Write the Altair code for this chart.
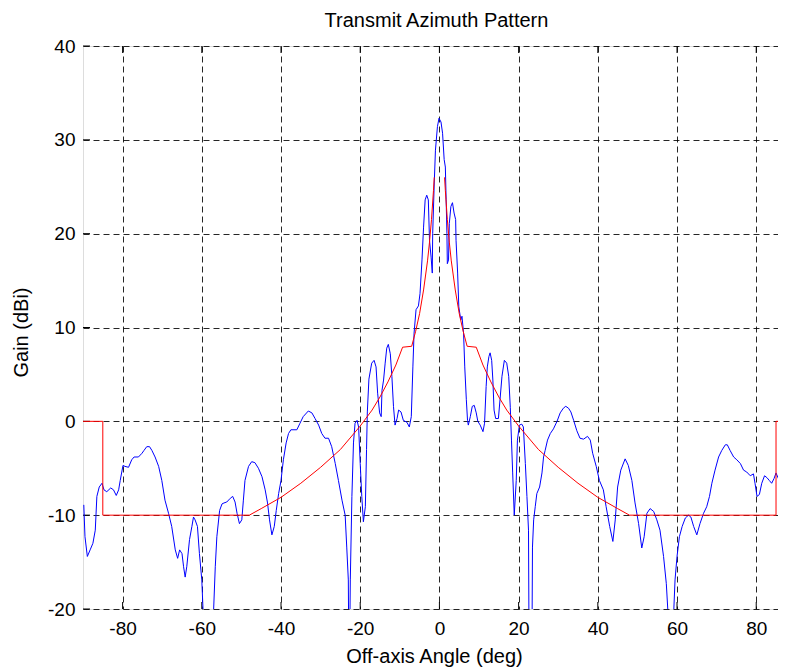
import altair as alt
import pandas as pd

# ---- data ----
blue_deg = [
    -89.8, -89.5, -88.9, -88.2, -87.5, -86.9, -86.5, -85.9, -85.2, -84.7, -84.0, -83.0, -82.3, -81.6, -81.0,
    -80.6, -79.9, -79.4, -78.5, -77.7, -77.1, -76.0, -75.1, -74.6, -73.9, -73.2, -72.6, -71.8, -70.9, -70.1,
    -69.3, -68.4, -67.6, -66.7, -66.1, -65.6, -65.0, -64.6, -64.2, -63.8, -63.1, -62.5, -62.1, -61.7, -61.1,
    -60.6, -60.0, -59.6, -59.2, -57.5, -57.1, -56.6, -56.2, -55.5, -54.9, -54.4, -53.7, -52.8, -52.2, -51.6,
    -51.1, -50.5, -49.9, -49.5, -49.1, -48.2, -47.4, -46.6, -45.7,
    -44.8, -44.0, -43.4, -42.9, -42.3, -41.7, -41.2, -40.6, -40.0, -39.4, -38.7, -38.1, -37.5, -36.0, -35.2,
    -34.4, -33.1, -32.2, -31.4, -30.5, -29.7, -28.9, -28.0, -27.2, -26.3, -25.5, -24.6, -23.8, -23.4, -23.0,
    -22.8, -22.5, -22.1, -21.7, -21.3, -20.8, -20.4, -20.0, -19.6, -19.2, -18.7, -18.4, -18.2, -17.8,
    -17.1, -16.5, -16.0, -15.6, -15.1, -14.7, -14.5, -14.1, -13.7, -13.3, -12.9, -12.4, -12.0, -11.6, -11.2,
    -10.7, -10.3, -9.7, -9.1, -8.2, -7.6, -7.1, -6.7, -6.4, -5.9, -5.3, -4.9, -4.4, -4.0, -3.6, -3.2, -2.8,
    -2.5, -2.1, -1.8, -1.7, -1.3, -1.0, -0.5, -0.1, 0.4, 0.8,
    1.2, 1.5, 1.7, 1.9, 2.0, 2.3, 2.5, 2.9, 3.3, 3.7, 4.1, 4.2, 4.6, 4.9, 5.4, 5.7, 6.1, 6.4, 6.8, 7.1, 7.3,
    7.8, 8.3, 8.8, 9.3, 9.7, 10.3, 11.0, 11.4, 11.8, 12.1, 12.5, 12.8, 13.2, 13.5, 13.8, 14.2, 14.9, 15.3,
    15.8, 16.4, 17.0, 17.5, 17.9, 18.2,
    18.5, 18.9, 19.4, 19.7, 20.2, 20.8, 21.2, 21.7, 22.1, 22.5, 22.7, 23.3, 23.5, 23.8, 24.2, 24.6, 25.3,
    25.9, 26.3, 26.7, 27.3, 28.0, 28.8, 29.7, 30.5, 31.3, 31.9, 32.6, 33.2, 33.9, 34.7, 35.5, 36.4, 37.4,
    38.1, 38.7, 39.6, 40.4, 41.4, 42.1, 43.0, 43.8, 44.4, 45.0, 45.8,
    46.9, 47.7, 48.6, 49.4, 50.3, 51.1, 51.7, 52.4, 53.2, 54.1, 54.9, 55.7, 56.6, 57.3, 57.8, 58.2, 58.8,
    59.1, 59.5, 60.0, 60.6, 61.3, 62.1, 62.9, 63.5, 64.2, 65.0, 65.8, 66.7, 67.5, 68.2, 68.8, 69.6, 70.5,
    71.3, 72.2, 72.7, 73.4, 74.3, 75.1, 76.0, 76.8, 77.6, 78.5, 79.3, 79.7, 80.2, 80.8, 81.4, 82.1, 82.7,
    83.3, 83.9, 84.5, 85.0, 85.6, 86.2, 86.9, 87.4,
]
blue_gain = [
    -8.9, -12.3, -14.4, -13.7, -13.0, -11.6, -8.0, -7.0, -6.6, -7.3, -7.5, -7.1, -7.3, -7.9, -7.3,
    -6.3, -4.7, -4.8, -4.9, -4.1, -3.8, -3.8, -3.4, -3.1, -2.7, -2.7, -3.1, -3.8, -4.8, -6.3,
    -8.4, -9.8, -11.2, -13.7, -14.6, -13.7, -14.1, -15.5, -16.6, -15.5, -12.6, -11.2, -10.2, -10.5, -11.2,
    -14.1, -16.9, -21.0, -40.0, -40.0, -21.0, -15.5, -12.3, -9.5, -8.8, -8.7, -8.6, -8.2, -8.0, -8.6,
    -9.8, -10.9, -10.5, -8.4, -6.3, -4.8, -4.3, -4.4, -5.0,
    -5.9, -7.3, -8.7, -10.5, -12.1, -11.2, -9.5, -7.7, -6.3, -4.1, -2.3, -1.3, -0.9, -0.9, -0.2,
    0.5, 1.1, 0.9, 0.3, -0.4, -1.3, -1.8, -1.8, -2.7, -4.5, -6.3, -8.4, -10.0, -13.4, -16.9,
    -30.0, -16.9, -8.0, -2.3, -0.2, 0.1, -0.6, -4.5, -8.0, -10.7, -9.1, -3.0, 1.0, 4.5,
    6.2, 6.5, 5.8, 3.0, 0.9, 0.5, 3.3, 4.4, 6.2, 7.8, 8.2, 7.2, 4.8, 1.6, -0.4,
    0.3, 1.2, 1.0, 0.1, -0.1, -0.6, 0.5, 5.8, 9.4, 11.9, 12.3, 13.6, 17.2, 20.7, 23.6, 24.1, 23.6,
    19.3, 17.5, 15.8, 20.0, 25.4, 28.9, 31.4, 32.3, 31.9, 30.7,
    27.9, 27.1, 23.6, 20.0, 16.8, 17.2, 21.1, 22.9, 23.3, 22.2, 21.5, 19.3, 15.8, 12.2, 10.8, 11.2, 9.4, 5.8, 2.3, 0.1, -0.4,
    0.5, 1.6, 1.7, 0.9, 0.0, -0.4, -1.1, -0.2, 3.7, 5.8, 6.9, 7.3, 6.5, 4.4, 1.2, 0.3, 0.3, 2.3,
    4.8, 6.5, 6.2, 4.8, 1.5, -2.0,
    -5.5, -10.0, -6.3, -2.0, -0.4, -0.3, -0.6, -4.5, -8.0, -11.6, -30.0, -30.0, -13.4, -10.5, -9.1, -7.7, -7.0,
    -5.5, -3.8, -3.1, -2.0, -1.3, -0.8, 0.0, 0.9, 1.4, 1.6, 1.4, 1.0, 0.1, -1.0, -1.8, -1.9, -1.6,
    -2.0, -3.4, -4.8, -6.3, -7.3, -9.1, -11.2, -12.8, -10.5, -7.0, -5.2,
    -4.0, -4.7, -6.3, -8.7, -10.9, -13.5, -12.3, -9.8, -9.3, -9.6, -10.5, -11.6, -14.4, -17.3, -21.0, -40.0, -40.0,
    -21.0, -16.9, -14.4, -12.3, -11.2, -10.3, -10.0, -10.2, -11.2, -12.1, -10.9, -9.8, -9.1, -8.0, -6.6, -5.2, -3.8,
    -3.1, -2.5, -2.5, -3.1, -3.8, -4.1, -4.5, -5.2, -5.4, -5.8, -5.6, -6.6, -8.0, -7.8, -6.6, -5.8, -6.0,
    -6.3, -6.6, -6.1, -5.5, -6.1, -7.3, -9.5, -8.7,
]

red_left_deg = [-90, -85.0, -85.0, -48, -45, -40, -35, -30, -25, -20, -17, -15, -13, -11, -9.3,
                -7.0, -6.0, -5.0, -4.0, -3.0, -2.5, -2.0, -1.5, -1.3]
red_left_gain = [0, 0, -10, -10, -9.3, -8.1, -6.6, -4.9, -3.0, -0.5, 1.2, 2.6, 4.2, 6.0, 7.9,
                 8.0, 9.6, 11.5, 14.0, 17.1, 19.1, 21.5, 24.6, 26.0]
red_right_deg = [1.3, 1.5, 2.0, 2.5, 3.0, 4.0, 5.0, 6.0, 7.0, 9.3, 11, 13, 15, 17, 20, 25, 30,
                 35, 40, 45, 48, 85.0, 85.0, 90]
red_right_gain = [26.0, 24.6, 21.5, 19.1, 17.1, 14.0, 11.5, 9.6, 8.0, 7.9, 6.0, 4.2, 2.6, 1.2,
                  -0.5, -3.0, -4.9, -6.6, -8.1, -9.3, -10, -10, 0, 0]

x_ticks = [-80, -60, -40, -20, 0, 20, 40, 60, 80]
y_ticks = [-20, -10, 0, 10, 20, 30, 40]

PLOT_W, PLOT_H = 695, 563
FONT = "Liberation Sans"

blue_df = pd.DataFrame({"deg": blue_deg, "gain": blue_gain, "i": range(len(blue_deg))})
red_df = pd.concat([
    pd.DataFrame({"deg": red_left_deg, "gain": red_left_gain, "seg": "L", "i": range(len(red_left_deg))}),
    pd.DataFrame({"deg": red_right_deg, "gain": red_right_gain, "seg": "R", "i": range(len(red_right_deg))}),
])
xt_df = pd.DataFrame({"t": x_ticks})
yt_df = pd.DataFrame({"t": y_ticks})

xscale = alt.Scale(domain=[-90, 85.5], nice=False, zero=False)
yscale = alt.Scale(domain=[-20, 40], nice=False, zero=False)

common = dict(grid=True, gridDash=[6, 4], gridColor="black", gridOpacity=0.85, gridWidth=1,
              domain=False, ticks=False, tickSize=0, labelFontSize=19, labelFont=FONT,
              labelColor="black", labelFlush=False, labelOverlap=False,
              labelExpr="'' + datum.value",
              titleFont=FONT, titleFontSize=20, titleFontWeight="normal", titleColor="black")
xaxis = alt.Axis(values=x_ticks, title="Off-axis Angle (deg)", labelPadding=10,
                 titleX=351, titleY=53, titleBaseline="alphabetic", **common)
yaxis = alt.Axis(values=y_ticks, title="Gain (dBi)", labelPadding=8, titlePadding=16,
                 titleY=286, **common)

blue = alt.Chart(blue_df).mark_line(color="#0000ff", strokeWidth=1, clip=True).encode(
    x=alt.X("deg:Q", scale=xscale, axis=xaxis),
    y=alt.Y("gain:Q", scale=yscale, axis=yaxis),
    order="i:Q",
)
red = alt.Chart(red_df).mark_line(color="#ff0000", strokeWidth=1, clip=True).encode(
    x=alt.X("deg:Q", scale=xscale),
    y=alt.Y("gain:Q", scale=yscale),
    detail="seg:N",
    order="i:Q",
)
top_ticks = alt.Chart(xt_df).mark_rule(color="black", strokeWidth=1).encode(
    x=alt.X("t:Q", scale=xscale), y=alt.value(0), y2=alt.value(7))
bot_ticks = alt.Chart(xt_df).mark_rule(color="black", strokeWidth=1).encode(
    x=alt.X("t:Q", scale=xscale), y=alt.value(PLOT_H - 7), y2=alt.value(PLOT_H))
left_ticks = alt.Chart(yt_df).mark_rule(color="black", strokeWidth=1).encode(
    y=alt.Y("t:Q", scale=yscale), x=alt.value(0), x2=alt.value(7))

chart = alt.layer(top_ticks, bot_ticks, left_ticks, blue, red).properties(
    width=PLOT_W, height=PLOT_H,
    title=alt.Title("Transmit Azimuth Pattern", font=FONT, fontSize=20, fontWeight="normal",
                    color="black", anchor="middle", offset=6, dx=6),
    autosize=alt.AutoSizeParams(type="none"),
    padding={"left": 75, "top": 38, "right": 0, "bottom": 59},
).configure_view(stroke="black", strokeWidth=1).configure(background="white")

chart.save("out.html", embed_options={"renderer": "svg", "actions": False})
